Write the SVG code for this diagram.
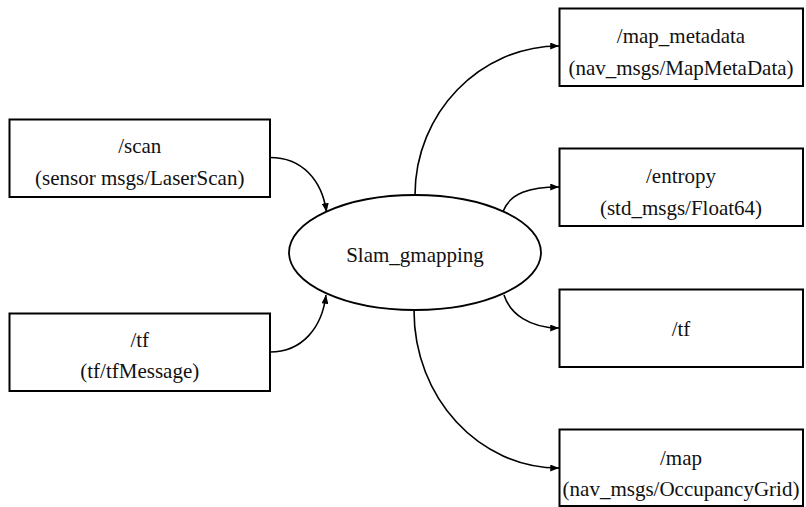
<svg xmlns="http://www.w3.org/2000/svg" width="806" height="507" viewBox="0 0 806 507">
  <defs>
    <style>
      .box { fill: #ffffff; stroke: #000000; stroke-width: 2; }
      .node-ellipse { fill: #ffffff; stroke: #000000; stroke-width: 1.8; }
      .lbl { font-family: 'Liberation Serif', 'Times New Roman', serif; font-size: 21px; fill: #111111; text-anchor: middle; }
      .edge { fill: none; stroke: #000000; stroke-width: 1.6; marker-end: url(#arrow); }
    </style>
    <marker id="arrow" viewBox="0 0 10 8" refX="10" refY="4" markerWidth="9" markerHeight="7" markerUnits="userSpaceOnUse" orient="auto">
      <path d="M0,0 L10,4 L0,8 Z" fill="#000000"/>
    </marker>
  </defs>

  <rect width="806" height="507" fill="#ffffff"/>

  <!-- connectors -->
  <g id="edges">
    <path class="edge" d="M270,157.5 C302,157.5 322,180 326.5,212"/>
    <path class="edge" d="M270,352 C302,352 322,328 326,295"/>
    <path class="edge" d="M415,195 C415,113 480,46 559,46"/>
    <path class="edge" d="M503,211.5 C510,193 530,187 559,187"/>
    <path class="edge" d="M504,295 C510,314 530,328 559,328"/>
    <path class="edge" d="M414,310.5 C414,398 479,468 559,468"/>
  </g>

  <!-- central node -->
  <g id="slam_gmapping">
    <ellipse class="node-ellipse" cx="415" cy="252.5" rx="126" ry="57.5"/>
    <text class="lbl" x="415" y="262">Slam_gmapping</text>
  </g>

  <!-- input topics -->
  <g id="scan">
    <rect class="box" x="9.5" y="119.5" width="260.5" height="77.5"/>
    <text class="lbl" x="139.75" y="153">/scan</text>
    <text class="lbl" x="139.75" y="185">(sensor msgs/LaserScan)</text>
  </g>
  <g id="tf_in">
    <rect class="box" x="9.5" y="313.5" width="260.5" height="77.5"/>
    <text class="lbl" x="139.75" y="347">/tf</text>
    <text class="lbl" x="139.75" y="378">(tf/tfMessage)</text>
  </g>

  <!-- output topics -->
  <g id="map_metadata">
    <rect class="box" x="559.5" y="8.5" width="243.5" height="77.5"/>
    <text class="lbl" x="681" y="43">/map_metadata</text>
    <text class="lbl" x="681" y="75">(nav_msgs/MapMetaData)</text>
  </g>
  <g id="entropy">
    <rect class="box" x="559.5" y="148.5" width="243.5" height="77.5"/>
    <text class="lbl" x="681" y="183">/entropy</text>
    <text class="lbl" x="681" y="215">(std_msgs/Float64)</text>
  </g>
  <g id="tf_out">
    <rect class="box" x="559.5" y="289.5" width="243.5" height="77.5"/>
    <text class="lbl" x="681" y="336">/tf</text>
  </g>
  <g id="map">
    <rect class="box" x="559.5" y="429.5" width="243.5" height="76.5"/>
    <text class="lbl" x="681" y="465">/map</text>
    <text class="lbl" x="681" y="496">(nav_msgs/OccupancyGrid)</text>
  </g>
</svg>
